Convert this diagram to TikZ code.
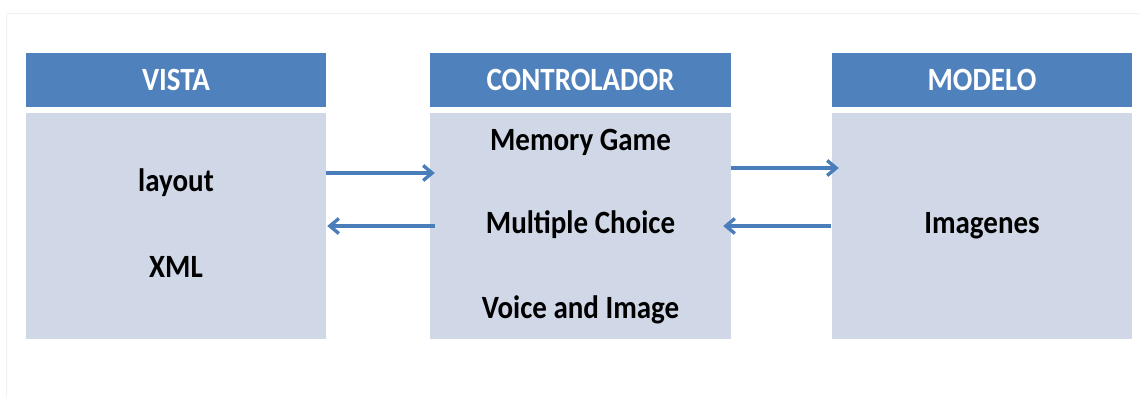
\documentclass[tikz,border=0pt]{standalone}
\usepackage{fontspec}
\setmainfont{Carlito}
\usetikzlibrary{arrows.meta}
\definecolor{headblue}{HTML}{4F81BD}
\definecolor{bodyblue}{HTML}{D0D8E8}
\definecolor{arrowblue}{HTML}{4A7EBB}
\definecolor{framegray}{HTML}{F1F1F1}
% slightly condensed-looking bold labels
\newcommand{\tallbf}[1]{\scalebox{1}[1.12]{#1}}
\tikzset{
  headbox/.style={rectangle, fill=headblue, minimum width=300pt, minimum height=54pt,
    inner sep=0pt, text=white, font=\fontsize{29}{34}\selectfont\bfseries},
  bodybox/.style={rectangle, fill=bodyblue, minimum width=300pt, minimum height=226pt,
    inner sep=0pt},
  itemtext/.style={inner sep=0pt, text=black, font=\fontsize{29}{34}\selectfont\bfseries},
  flow/.style={draw=arrowblue, line width=3.4pt,
    -{Straight Barb[length=9pt,width=15pt,line width=3.4pt]}}
}
\begin{document}
\begin{tikzpicture}[x=1pt,y=-1pt]
  \useasboundingbox (0,0) rectangle (1139,397);
  \fill[white] (0,0) rectangle (1139,397);
  % faint page frame
  \draw[framegray, line width=1pt] (6,397) -- (6,13) -- (1139,13);

  % column headers
  \node[headbox] (vhead) at (176,80) {\tallbf{VISTA}};
  \node[headbox, minimum width=301pt] (chead) at (580.5,80) {\tallbf{CONTROLADOR}};
  \node[headbox] (mhead) at (982,80) {\tallbf{MODELO}};

  % column bodies
  \node[bodybox] (vbody) at (176,226) {};
  \node[bodybox, minimum width=301pt] (cbody) at (580.5,226) {};
  \node[bodybox] (mbody) at (982,226) {};

  % body texts
  \node[itemtext] (layout) at (176,183) {\tallbf{layout}};
  \node[itemtext] (xml) at (176,267) {\tallbf{XML}};
  \node[itemtext] (memory) at (580.5,142) {\tallbf{Memory Game}};
  \node[itemtext] (multiple) at (580.5,225) {\tallbf{Multiple Choice}};
  \node[itemtext] (voice) at (580.5,310) {\tallbf{Voice and Image}};
  \node[itemtext] (imagenes) at (982,226) {\tallbf{Imagenes}};

  % connectors
  \draw[flow] ([yshift=53pt]vbody.east) -- ([yshift=53pt,xshift=5pt]cbody.west);
  \draw[flow] ([xshift=5pt]cbody.west) -- ([xshift=1pt]vbody.east);
  \draw[flow] ([yshift=58pt]cbody.east) -- ([yshift=58pt,xshift=7pt]mbody.west);
  \draw[flow] ([xshift=-1pt]mbody.west) -- ([xshift=-8pt]cbody.east);
\end{tikzpicture}
\end{document}
